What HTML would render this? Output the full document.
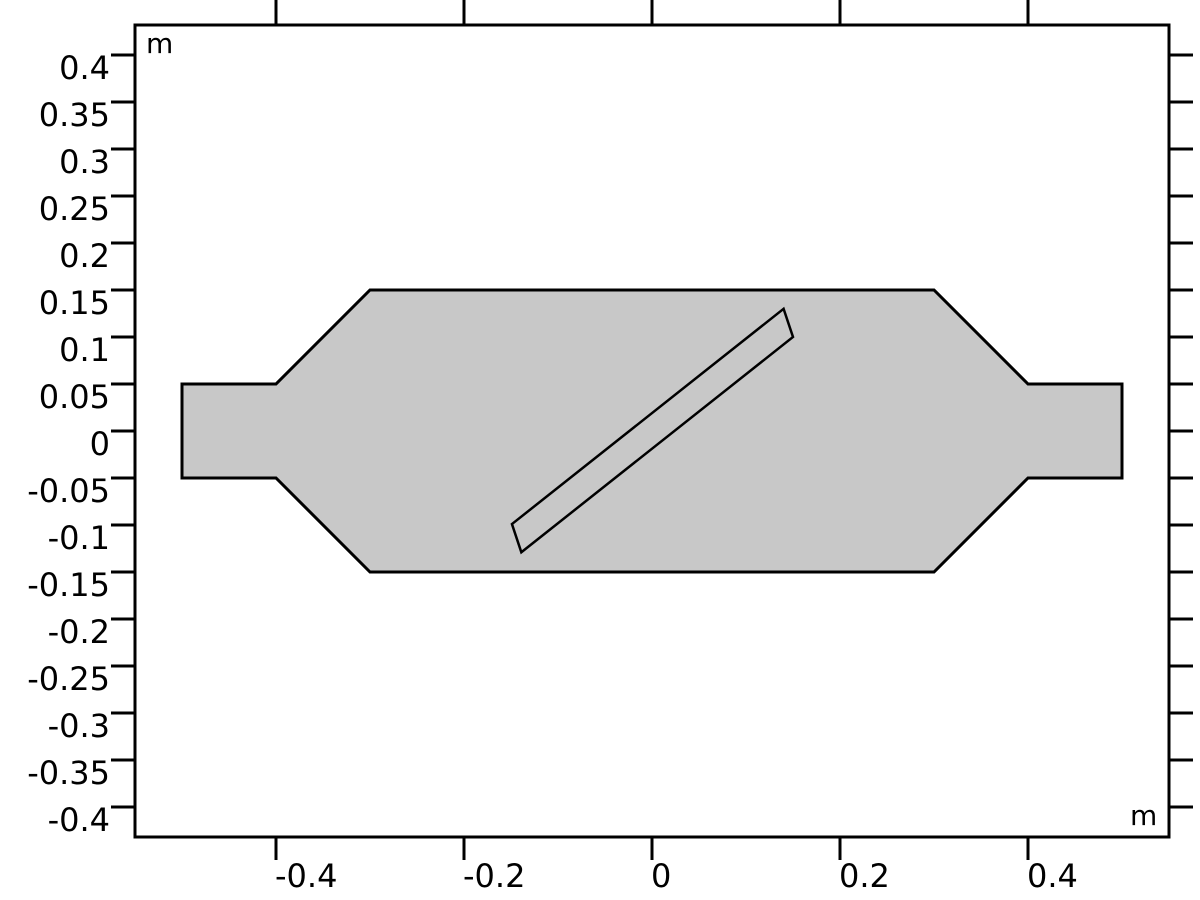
<!DOCTYPE html>
<html><head><meta charset="utf-8"><style>
html,body{margin:0;padding:0;background:#fff;}
svg{display:block;font-family:"DejaVu Sans","Liberation Sans",sans-serif;}
</style></head><body>
<svg id="c" width="1200" height="900">
<rect x="135" y="25" width="1034" height="812" fill="#fff" stroke="#000" stroke-width="3"/>
<g id="geo"></g>
<g id="ticks"></g>
<text x="146" y="53" font-size="28">m</text>
<text x="1130" y="825" font-size="28">m</text>
</svg>
<script>
const xTicks=[-0.4,-0.2,0,0.2,0.4];
const xTickLabels=["-0.4","-0.2","0","0.2","0.4"];
const yTicks=[0.4,0.35,0.3,0.25,0.2,0.15,0.1,0.05,0,-0.05,-0.1,-0.15,-0.2,-0.25,-0.3,-0.35,-0.4];
const yTickLabels=["0.4","0.35","0.3","0.25","0.2","0.15","0.1","0.05","0","-0.05","-0.1","-0.15","-0.2","-0.25","-0.3","-0.35","-0.4"];
const outerX=[-0.5,-0.4,-0.3,0.3,0.4,0.5,0.5,0.4,0.3,-0.3,-0.4,-0.5];
const outerY=[0.05,0.05,0.15,0.15,0.05,0.05,-0.05,-0.05,-0.15,-0.15,-0.05,-0.05];
const innerX=[-0.149,0.140,0.150,-0.139];
const innerY=[-0.099,0.130,0.100,-0.129];
const sx=v=>652+v*940, sy=v=>431-v*940;
const NS="http://www.w3.org/2000/svg";
const geo=document.getElementById('geo'), tk=document.getElementById('ticks');
function mk(t,a,p){const e=document.createElementNS(NS,t);for(const k in a)e.setAttribute(k,a[k]);p.appendChild(e);return e;}
let op=mk('polygon',{points:outerX.map((x,i)=>sx(x)+','+sy(outerY[i])).join(' '),fill:'#c8c8c8',stroke:'#000','stroke-width':3},geo);


let ip=mk('polygon',{points:innerX.map((x,i)=>sx(x)+','+sy(innerY[i])).join(' '),fill:'#c8c8c8',stroke:'#000','stroke-width':2.5},geo);


xTicks.forEach((v,i)=>{const x=sx(v);
 let a=mk('line',{x1:x,x2:x,y1:0,y2:25,stroke:'#000','stroke-width':3},tk);
 
 
 let b=mk('line',{x1:x,x2:x,y1:837,y2:860,stroke:'#000','stroke-width':3},tk);
 
 
 let t=mk('text',{x:x-1,y:887,'font-size':32},tk);t.textContent=xTickLabels[i];
 
 
});
yTicks.forEach((v,i)=>{const y=sy(v);
 let a=mk('line',{x1:111,x2:135,y1:y,y2:y,stroke:'#000','stroke-width':3},tk);
 
 
 let b=mk('line',{x1:1169,x2:1193,y1:y,y2:y,stroke:'#000','stroke-width':3},tk);
 
 
 let t=mk('text',{x:110,y:y+24,'font-size':32,'text-anchor':'end'},tk);t.textContent=yTickLabels[i];
 
 
});
</script>
</body></html>
